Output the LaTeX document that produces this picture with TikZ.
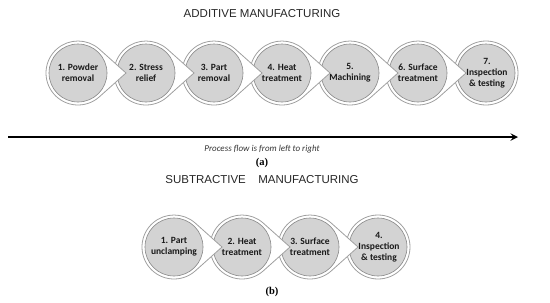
\documentclass[tikz,border=0pt]{standalone}
\usepackage{fontspec}
\setmainfont{Liberation Sans}
\newfontfamily\labelfont{Carlito}
\newfontfamily\capfont{Liberation Serif}
\usepackage{tikz}
\definecolor{ringgray}{HTML}{A0A0A0}
\definecolor{discgray}{HTML}{D3D3D3}

\begin{document}
\begin{tikzpicture}[x=1pt,y=-1pt,
		ring/.style={draw=ringgray,fill=white,line width=0.8pt},
		disc/.style={draw=ringgray!85!black,fill=discgray,line width=0.6pt},
		steplabel/.style={font=\labelfont\bfseries\fontsize{9.5}{11}\selectfont,align=center,text=black!90},
		heading/.style={font=\fontsize{11.5}{13}\selectfont,text=black!85}]
		\useasboundingbox (0,0) rectangle (550,303);
		% Additive title
		\node[heading] (addtitle) at (262,14) {ADDITIVE MANUFACTURING};
		% Additive steps, drawn from the last one so each pointer lies on top
		\draw[ring] (486,73) circle[radius=32];
		\draw[disc] (486,73) circle[radius=29];
		\foreach \n/\x/\t in {6/418/{6. Surface\\treatment}, 5/350/{5.\\Machining},
			4/282/{4. Heat\\treatment}, 3/214/{3. Part\\removal},
			2/146/{2. Stress\\relief}, 1/78/{1. Powder\\removal}}{
			\draw[ring] ([shift={(49:32)}]\x,73) arc[start angle=49,end angle=311,radius=32] -- (\x+48,73) -- cycle;
			\draw[disc] (\x,73) circle[radius=29];
			\node[steplabel] (add\n) at (\x,73) {\t};
		}
		\node[steplabel] (add7) at (487,73) {7.\\Inspection\\\& testing};
		% Process flow arrow
		\coordinate (flowstart) at (8,137);
		\coordinate (flowend) at (518,137);
		\draw[->, >=stealth, line width=2.2pt] (flowstart) -- (flowend);
		\node[font=\labelfont\itshape\fontsize{9}{11}\selectfont,text=black!80] (flowtext) at (262,149) {Process flow is from left to right};
		\node[font=\capfont\bfseries\fontsize{10.5}{12}\selectfont] (capa) at (262,163) {(a)};
		% Subtractive title
		\node[heading] (subtitle) at (262,180) {SUBTRACTIVE\hspace{0.8em} MANUFACTURING};
		% Subtractive steps
		\draw[ring] (378,247) circle[radius=32];
		\draw[disc] (378,247) circle[radius=29];
		\foreach \n/\x/\t in {3/310/{3. Surface\\treatment}, 2/242/{2. Heat\\treatment},
			1/174/{1. Part\\unclamping}}{
			\draw[ring] ([shift={(49:32)}]\x,247) arc[start angle=49,end angle=311,radius=32] -- (\x+48,247) -- cycle;
			\draw[disc] (\x,247) circle[radius=29];
			\node[steplabel] (sub\n) at (\x,247) {\t};
		}
		\node[steplabel] (sub4) at (379,247) {4.\\Inspection\\\& testing};
		\node[font=\capfont\bfseries\fontsize{10.5}{12}\selectfont] (capb) at (272,292) {(b)};
	\end{tikzpicture}
\end{document}
